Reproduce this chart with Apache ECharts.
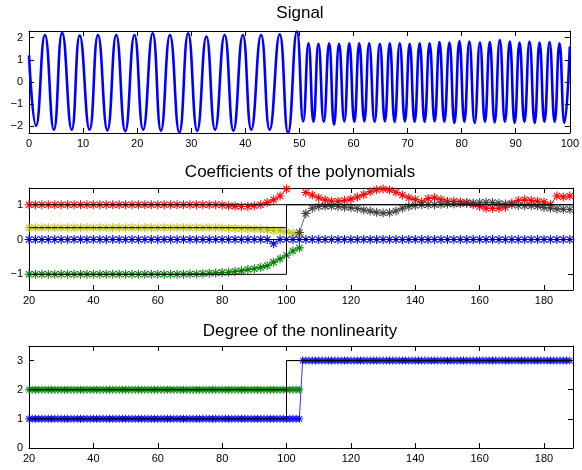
<!DOCTYPE html>
<html>
<head>
<meta charset="utf-8">
<script src="https://cdn.jsdelivr.net/npm/echarts@6/dist/echarts.min.js"></script>
<style>html,body{margin:0;padding:0;background:#fff}#c{width:582px;height:470px}</style>
</head>
<body>
<div id="c"></div>
<script>
// ---------- Signal (extrema) ----------
const sigX = [
  0, 1.3, 2.94, 4.6, 6.13, 7.9, 9.38, 11.2, 12.75, 14.5,
  16.13, 17.8, 19.5, 21.1, 22.87, 24.4, 26.06, 27.8, 29.43, 31.1,
  32.8, 34.4, 36.17, 37.8, 39.54, 41.1, 42.91, 44.5, 46.35, 47.9,
  49.53, 50.7, 51.68, 52.6, 53.52, 54.5, 55.49, 56.4, 57.33, 58.3,
  59.22, 60.15, 61.06, 62.0, 62.9, 63.9, 64.87, 65.8, 66.71, 67.6,
  68.55, 69.5, 70.39, 71.3, 72.23, 73.15, 74.07, 75.0, 75.9, 76.8,
  77.74, 78.66, 79.58, 80.5, 81.42, 82.4, 83.38, 84.3, 85.2, 86.1,
  87.05, 88.0, 88.9, 89.8, 90.7, 91.6, 92.55, 93.5, 94.4, 95.3,
  96.25, 97.2, 98.09, 99.0, 100
];
const sigY = [
  1.2, -1.97, 2.12, -2.15, 2.22, -2.15, 2.1, -2.15, 2.12, -2.18,
  2.12, -2.22, 2.12, -2.15, 2.2, -2.2, 2.12, -2.28, 2.2, -2.2,
  2.05, -2.15, 2.12, -2.2, 2.12, -2.15, 2.12, -2.15, 2.15, -2.3,
  2.28, -1.78, 1.75, -1.8, 1.72, -1.8, 1.75, -1.93, 1.72, -1.78,
  1.75, -1.8, 1.75, -1.78, 1.75, -1.8, 1.72, -1.78, 1.75, -1.8,
  1.75, -1.78, 1.72, -1.8, 1.75, -1.8, 1.75, -1.78, 1.8, -1.8,
  1.78, -1.85, 1.85, -1.8, 1.82, -1.85, 1.78, -1.8, 1.8, -1.82,
  1.9, -1.8, 1.82, -1.85, 1.78, -1.8, 1.82, -1.85, 1.78, -1.8,
  1.8, -1.8, 1.75, -1.85, 1.6
];

// ---------- Coefficients of the polynomials ----------
const coefX = [
  20,22,24,26,28,30,32,34,36,38,
  40,42,44,46,48,50,52,54,56,58,
  60,62,64,66,68,70,72,74,76,78,
  80,82,84,86,88,90,92,94,96,98,
  100,102,104,106,108,110,112,114,116,118,
  120,122,124,126,128,130,132,134,136,138,
  140,142,144,146,148,150,152,154,156,158,
  160,162,164,166,168,170,172,174,176,178,
  180,182,184,186,188
];
const coefRed = [
  1,1,1,1,1,1,1,1,1,1,
  1,1,1,1,1,1,1,1,1,1,
  1,1,1,1,1,1,1,1,1,1,
  0.99,0.97,0.96,0.95,0.95,0.97,1.0,1.06,1.14,1.25,
  1.45,null,null,1.35,1.28,1.2,1.14,1.1,1.1,1.12,
  1.16,1.22,1.29,1.37,1.43,1.45,1.42,1.36,1.28,1.2,
  1.15,1.08,1.18,1.2,1.15,1.1,1.1,1.08,1.06,1.0,
  0.95,0.9,0.9,0.9,0.93,1.05,1.12,1.14,1.12,1.1,
  1.08,1.0,1.25,1.22,1.25
];
const coefYellow = [
  0.34,0.34,0.34,0.34,0.34,0.34,0.34,0.34,0.34,0.34,
  0.34,0.34,0.34,0.34,0.34,0.34,0.34,0.34,0.34,0.34,
  0.34,0.34,0.34,0.34,0.34,0.34,0.34,0.34,0.34,0.34,
  0.33,0.32,0.32,0.31,0.31,0.3,0.29,0.28,0.26,0.25,
  0.22,0.18,0.14,null,null,null,null,null,null,null,
  null,null,null,null,null,null,null,null,null,null,
  null,null,null,null,null,null,null,null,null,null,
  null,null,null,null,null,null,null,null,null,null,
  null,null,null,null,null
];
const coefGreen = [
  -1,-1,-1,-1,-1,-1,-1,-1,-1,-1,
  -1,-1,-1,-1,-1,-1,-1,-1,-1,-1,
  -1,-1,-1,-1,-1,-0.99,-0.99,-0.98,-0.97,-0.96,
  -0.95,-0.94,-0.92,-0.9,-0.86,-0.84,-0.8,-0.75,-0.65,-0.55,
  -0.45,-0.33,-0.24,null,null,null,null,null,null,null,
  null,null,null,null,null,null,null,null,null,null,
  null,null,null,null,null,null,null,null,null,null,
  null,null,null,null,null,null,null,null,null,null,
  null,null,null,null,null
];
const coefGray = [
  null,null,null,null,null,null,null,null,null,null,
  null,null,null,null,null,null,null,null,null,null,
  null,null,null,null,null,null,null,null,null,null,
  null,null,null,null,null,null,null,null,null,null,
  null,null,0.2,0.75,0.9,0.95,0.96,0.96,0.95,0.93,
  0.91,0.89,0.85,0.82,0.78,0.76,0.77,0.82,0.9,0.95,
  0.98,1.0,1.0,1.0,1.01,1.02,1.02,1.03,1.04,1.05,
  1.06,1.07,1.06,1.04,1.02,1.0,0.98,0.97,0.97,0.96,
  0.92,0.9,0.88,0.87,0.86
];
const coefBlue = [
  0,0,0,0,0,0,0,0,0,0,
  0,0,0,0,0,0,0,0,0,0,
  0,0,0,0,0,0,0,0,0,0,
  0,0,0,0,0,0,0,0,-0.12,0,
  0,0,0,0,0,0,0,0,0,0,
  0,0,0,0,0,0,0,0,0,0,
  0,0,0,0,0,0,0,0,0,0,
  0,0,0,0,0,0,0,0,0,0,
  0,0,0,0,0
];
// true (reference) coefficients, black step lines
const trueCoef1 = [[20, 1], [189, 1]];
const trueCoef2 = [[20, 0.34], [100, 0.34], [100, 0], [189, 0]];
const trueCoef3 = [[20, -1], [100, -1], [100, 0], [189, 0]];
const trueCoef4 = [[20, 0], [100, 0], [100, 1], [189, 1]];

// ---------- Degree of the nonlinearity ----------
const degX = [
  20,21,22,23,24,25,26,27,28,29,
  30,31,32,33,34,35,36,37,38,39,
  40,41,42,43,44,45,46,47,48,49,
  50,51,52,53,54,55,56,57,58,59,
  60,61,62,63,64,65,66,67,68,69,
  70,71,72,73,74,75,76,77,78,79,
  80,81,82,83,84,85,86,87,88,89,
  90,91,92,93,94,95,96,97,98,99,
  100,101,102,103,104,105,106,107,108,109,
  110,111,112,113,114,115,116,117,118,119,
  120,121,122,123,124,125,126,127,128,129,
  130,131,132,133,134,135,136,137,138,139,
  140,141,142,143,144,145,146,147,148,149,
  150,151,152,153,154,155,156,157,158,159,
  160,161,162,163,164,165,166,167,168,169,
  170,171,172,173,174,175,176,177,178,179,
  180,181,182,183,184,185,186,187,188
];
const degBlue = [
  1,1,1,1,1,1,1,1,1,1,
  1,1,1,1,1,1,1,1,1,1,
  1,1,1,1,1,1,1,1,1,1,
  1,1,1,1,1,1,1,1,1,1,
  1,1,1,1,1,1,1,1,1,1,
  1,1,1,1,1,1,1,1,1,1,
  1,1,1,1,1,1,1,1,1,1,
  1,1,1,1,1,1,1,1,1,1,
  1,1,1,1,1,3,3,3,3,3,
  3,3,3,3,3,3,3,3,3,3,
  3,3,3,3,3,3,3,3,3,3,
  3,3,3,3,3,3,3,3,3,3,
  3,3,3,3,3,3,3,3,3,3,
  3,3,3,3,3,3,3,3,3,3,
  3,3,3,3,3,3,3,3,3,3,
  3,3,3,3,3,3,3,3,3,3,
  3,3,3,3,3,3,3,3,3
];
const degGreen = [
  2,2,2,2,2,2,2,2,2,2,
  2,2,2,2,2,2,2,2,2,2,
  2,2,2,2,2,2,2,2,2,2,
  2,2,2,2,2,2,2,2,2,2,
  2,2,2,2,2,2,2,2,2,2,
  2,2,2,2,2,2,2,2,2,2,
  2,2,2,2,2,2,2,2,2,2,
  2,2,2,2,2,2,2,2,2,2,
  2,2,2,2,2,null,null,null,null,null,
  null,null,null,null,null,null,null,null,null,null,
  null,null,null,null,null,null,null,null,null,null,
  null,null,null,null,null,null,null,null,null,null,
  null,null,null,null,null,null,null,null,null,null,
  null,null,null,null,null,null,null,null,null,null,
  null,null,null,null,null,null,null,null,null,null,
  null,null,null,null,null,null,null,null,null,null,
  null,null,null,null,null,null,null,null,null
];
const trueDeg1 = [[20, 2], [100, 2], [100, 3], [189, 3]];
const trueDeg2 = [[20, 1], [100, 1], [100, 3], [189, 3]];

const titles = ['Signal', 'Coefficients of the polynomials', 'Degree of the nonlinearity'];

// ---------- chart ----------
const FONT = '"Liberation Sans", Arial, Helvetica, sans-serif';
const STAR = 'path://M-0.6,-5 L0.6,-5 L0.6,5 L-0.6,5 Z M-5,-0.6 L5,-0.6 L5,0.6 L-5,0.6 Z ' +
  'M-3.08,-3.92 L3.92,3.08 L3.08,3.92 L-3.92,-3.08 Z M-3.92,3.08 L3.08,-3.92 L3.92,-3.08 L-3.08,3.92 Z';

const pairs = (xs, ys) => xs.map((x, i) => [x, ys[i]]);
const minus = v => String(v).replace('-', '\u2212');

function xAxes(grid, min, max, interval, showMax) {
  const common = {
    gridIndex: grid, type: 'value', min, max, interval,
    axisLine: { show: true, onZero: false, lineStyle: { color: '#000', width: 1 } },
    axisTick: { show: true, inside: true, length: 5, lineStyle: { color: '#000' } },
    splitLine: { show: false }
  };
  return [
    Object.assign({}, common, { position: 'bottom',
      axisLabel: { color: '#000', fontSize: 11, fontFamily: FONT, margin: 5, showMaxLabel: !!showMax, formatter: minus } }),
    Object.assign({}, common, { position: 'top', axisLabel: { show: false } })
  ];
}
function yAxes(grid, min, max, extra) {
  const common = Object.assign({
    gridIndex: grid, type: 'value', min, max,
    axisLine: { show: true, onZero: false, lineStyle: { color: '#000', width: 1 } },
    axisTick: { show: true, inside: true, length: 5, lineStyle: { color: '#000' } },
    splitLine: { show: false }
  }, extra);
  return [
    Object.assign({}, common, { position: 'left',
      axisLabel: { color: '#000', fontSize: 11, fontFamily: FONT, margin: 6,
        showMinLabel: extra.showMin !== false, showMaxLabel: false, formatter: minus } }),
    Object.assign({}, common, { position: 'right', axisLabel: { show: false } })
  ];
}

function stars(name, xs, ys, color, xi, yi, size) {
  return {
    name, type: 'line', xAxisIndex: xi, yAxisIndex: yi,
    data: pairs(xs, ys), connectNulls: false,
    showSymbol: true, showAllSymbol: true, symbol: STAR, symbolSize: size || 8,
    itemStyle: { color }, lineStyle: { color, width: 0.8 },
    emphasis: { disabled: true }, silent: true, animation: false
  };
}
function blackLine(data, xi, yi) {
  return {
    type: 'line', xAxisIndex: xi, yAxisIndex: yi, data, showSymbol: false,
    lineStyle: { color: '#000', width: 1 }, silent: true, animation: false, z: 5
  };
}
function titleText(text, y) {
  return { type: 'text', x: 300, y, style: { text, font: '17px ' + FONT, fill: '#000',
    textAlign: 'center', textVerticalAlign: 'middle', align: 'center', verticalAlign: 'middle' } };
}

const option = {
  animation: false,
  backgroundColor: '#fff',
  grid: [
    { left: 29, right: 9, top: 31, height: 102 },
    { left: 29, right: 9, top: 188, height: 102 },
    { left: 29, right: 9, top: 346, height: 102 }
  ],
  xAxis: [].concat(xAxes(0, 0, 100, 10, true), xAxes(1, 20, 189, 20), xAxes(2, 20, 189, 20)),
  yAxis: [].concat(
    yAxes(0, -2.3, 2.3, { splitNumber: 5, showMin: false }),
    yAxes(1, -1.45, 1.48, { splitNumber: 3, showMin: false }),
    yAxes(2, 0, 3.5, { interval: 1 })
  ),
  graphic: [titleText(titles[0], 13), titleText(titles[1], 172), titleText(titles[2], 331)],
  series: [
    {
      name: 'Signal', type: 'line', xAxisIndex: 0, yAxisIndex: 0,
      data: pairs(sigX, sigY), smooth: 0.5, showSymbol: false,
      lineStyle: { color: '#0000ff', width: 2.6 }, silent: true, animation: false
    },
    stars('c1', coefX, coefRed, '#ff0000', 2, 2, 9),
    stars('c2', coefX, coefYellow, '#bfbf00', 2, 2, 9),
    stars('c3', coefX, coefGreen, '#008000', 2, 2, 9),
    stars('c4', coefX, coefGray, '#404040', 2, 2, 9),
    stars('c0', coefX, coefBlue, '#0000ff', 2, 2, 9),
    blackLine(trueCoef1, 2, 2),
    blackLine(trueCoef2, 2, 2),
    blackLine(trueCoef3, 2, 2),
    blackLine(trueCoef4, 2, 2),
    stars('deg2', degX, degGreen, '#008000', 4, 4),
    stars('deg1', degX, degBlue, '#0000ff', 4, 4),
    blackLine(trueDeg1, 4, 4),
    blackLine(trueDeg2, 4, 4)
  ]
};
const chart = echarts.init(document.getElementById('c'), null, { renderer: 'canvas' });
chart.setOption(option);
</script>
</body>
</html>
